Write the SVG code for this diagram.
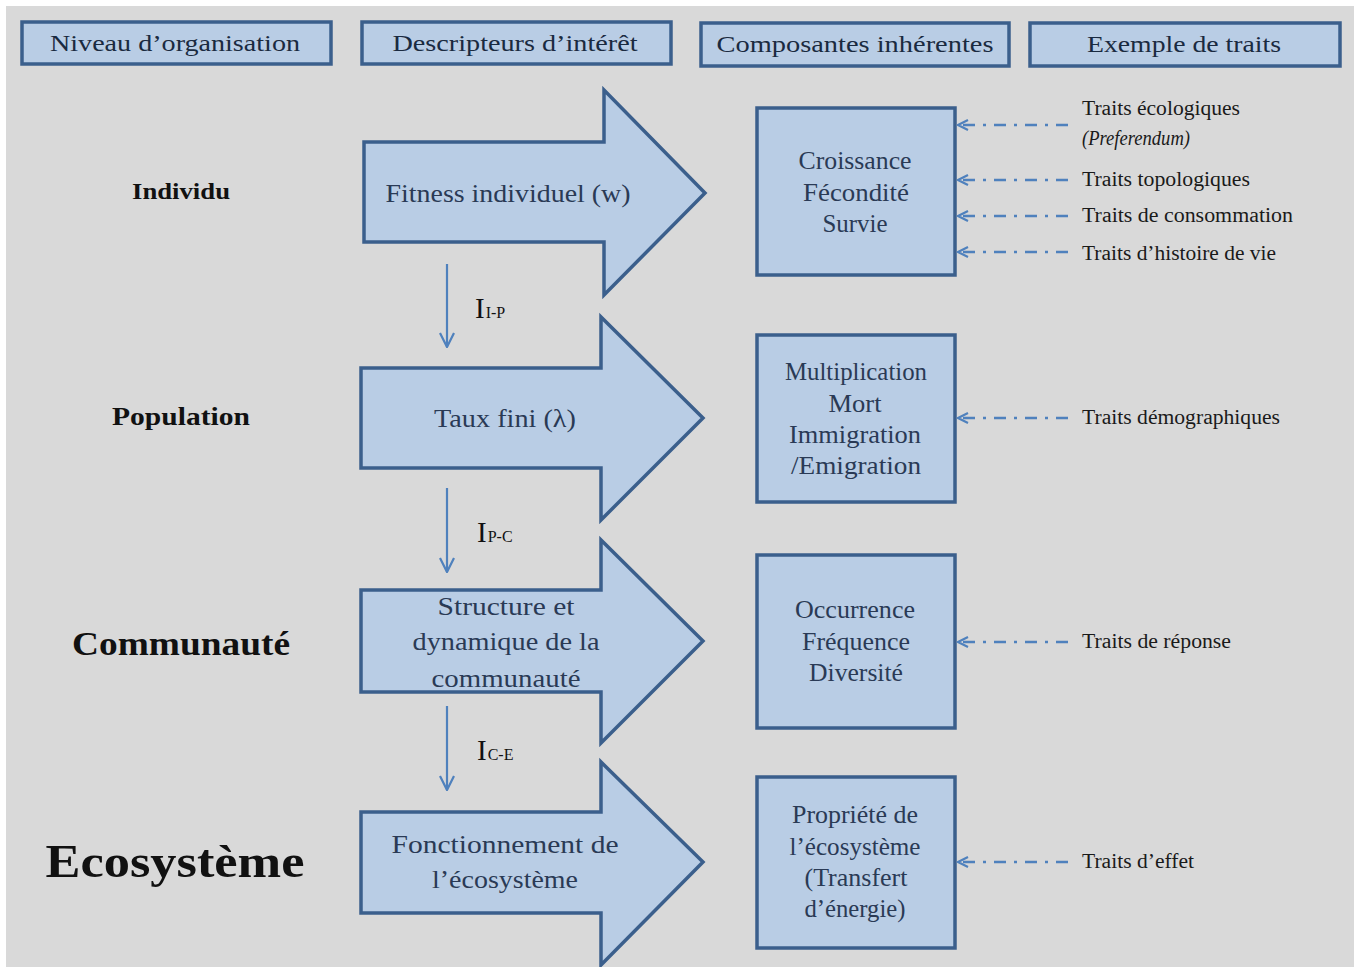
<svg xmlns="http://www.w3.org/2000/svg" width="1360" height="967" viewBox="0 0 1360 967">
<defs>
<style>
.bg{fill:#d9d9d9}
.box{fill:#b9cde5;stroke:#3b5f8c;stroke-width:3.5}
.hdr{font-family:"Liberation Serif",serif;font-size:24px;fill:#1a2a40;text-anchor:middle}
.lvl{font-family:"Liberation Serif",serif;font-weight:bold;fill:#111;text-anchor:middle}
.in{font-family:"Liberation Serif",serif;font-size:25px;fill:#2a3a55;text-anchor:middle}
.tr{font-family:"Liberation Serif",serif;font-size:20px;fill:#1a1a1a}
.sym{font-family:"Liberation Serif",serif;fill:#111}
.dash{stroke:#4f81bd;stroke-width:2.5;fill:none;stroke-dasharray:12 8 3 8}
.vert{stroke:#4f81bd;stroke-width:2.2;fill:none}
</style>
<marker id="open" viewBox="0 0 12 12" refX="11" refY="6" markerWidth="12" markerHeight="12" markerUnits="userSpaceOnUse" orient="auto">
<path d="M1,1 L11,6 L1,11" fill="none" stroke="#4f81bd" stroke-width="2.2"/>
</marker>
<marker id="openv" viewBox="0 0 16 16" refX="15" refY="8" markerWidth="16" markerHeight="16" markerUnits="userSpaceOnUse" orient="auto">
<path d="M1,1 L15,8 L1,15" fill="none" stroke="#4f81bd" stroke-width="2.2"/>
</marker>
</defs>
<rect x="0" y="0" width="1360" height="967" fill="#ffffff"/>
<rect class="bg" x="6" y="6" width="1348" height="961"/>

<g id="header-niveau"><rect class="box" x="22" y="22" width="309" height="42"/><text class="hdr" x="175" y="51" textLength="250" lengthAdjust="spacingAndGlyphs">Niveau d’organisation</text></g>
<g id="header-descripteurs"><rect class="box" x="362" y="22" width="309" height="42"/><text class="hdr" x="515" y="51" textLength="245" lengthAdjust="spacingAndGlyphs">Descripteurs d’intérêt</text></g>
<g id="header-composantes"><rect class="box" x="701" y="23" width="308" height="43"/><text class="hdr" x="855" y="52" textLength="277" lengthAdjust="spacingAndGlyphs">Composantes inhérentes</text></g>
<g id="header-exemple"><rect class="box" x="1030" y="23" width="310" height="43"/><text class="hdr" x="1184" y="52" textLength="194" lengthAdjust="spacingAndGlyphs">Exemple de traits</text></g>

<g id="level-individu"><text class="lvl" x="181" y="199" font-size="24" textLength="98" lengthAdjust="spacingAndGlyphs">Individu</text></g>
<g id="level-population"><text class="lvl" x="181" y="425" font-size="26" textLength="138" lengthAdjust="spacingAndGlyphs">Population</text></g>
<g id="level-communaute"><text class="lvl" x="181" y="655" font-size="34" textLength="218" lengthAdjust="spacingAndGlyphs">Communauté</text></g>
<g id="level-ecosysteme"><text class="lvl" x="175" y="877" font-size="46" textLength="259" lengthAdjust="spacingAndGlyphs">Ecosystème</text></g>

<g id="arrow-fitness"><path class="box" d="M364,142 H604 V90 L705,193 L604,295 V242 H364 Z"/><text class="in" x="508" y="202" textLength="245" lengthAdjust="spacingAndGlyphs">Fitness individuel (w)</text></g>
<g id="arrow-taux"><path class="box" d="M361,368 H601 V317 L703,418 L601,520 V468 H361 Z"/><text class="in" x="505" y="427" textLength="142" lengthAdjust="spacingAndGlyphs">Taux fini (λ)</text></g>
<g id="arrow-structure"><path class="box" d="M361,590 H601 V540 L703,641 L601,743 V692 H361 Z"/><text class="in" x="506" y="615" textLength="137" lengthAdjust="spacingAndGlyphs">Structure  et</text><text class="in" x="506" y="650" textLength="187" lengthAdjust="spacingAndGlyphs">dynamique de la</text><text class="in" x="506" y="687" textLength="149" lengthAdjust="spacingAndGlyphs">communauté</text></g>
<g id="arrow-fonctionnement"><path class="box" d="M361,812 H601 V762 L703,862 L601,965 V913 H361 Z"/><text class="in" x="505" y="853" textLength="227" lengthAdjust="spacingAndGlyphs">Fonctionnement de</text><text class="in" x="505" y="888" textLength="146" lengthAdjust="spacingAndGlyphs">l’écosystème</text></g>

<g id="box-croissance"><rect class="box" x="757" y="108" width="198" height="167"/><text class="in" x="855" y="169" textLength="113" lengthAdjust="spacingAndGlyphs">Croissance</text><text class="in" x="856" y="201" textLength="106" lengthAdjust="spacingAndGlyphs">Fécondité</text><text class="in" x="855" y="232" textLength="65" lengthAdjust="spacingAndGlyphs">Survie</text></g>
<g id="box-multiplication"><rect class="box" x="757" y="335" width="198" height="167"/><text class="in" x="856" y="380" textLength="142" lengthAdjust="spacingAndGlyphs">Multiplication</text><text class="in" x="855" y="412" textLength="53" lengthAdjust="spacingAndGlyphs">Mort</text><text class="in" x="855" y="443" textLength="132" lengthAdjust="spacingAndGlyphs">Immigration</text><text class="in" x="856" y="474" textLength="130" lengthAdjust="spacingAndGlyphs">/Emigration</text></g>
<g id="box-occurrence"><rect class="box" x="757" y="555" width="198" height="173"/><text class="in" x="855" y="618" textLength="120" lengthAdjust="spacingAndGlyphs">Occurrence</text><text class="in" x="856" y="650" textLength="108" lengthAdjust="spacingAndGlyphs">Fréquence</text><text class="in" x="856" y="681" textLength="94" lengthAdjust="spacingAndGlyphs">Diversité</text></g>
<g id="box-propriete"><rect class="box" x="757" y="777" width="198" height="171"/><text class="in" x="855" y="823" textLength="126" lengthAdjust="spacingAndGlyphs">Propriété de</text><text class="in" x="855" y="855" textLength="131" lengthAdjust="spacingAndGlyphs">l’écosystème</text><text class="in" x="856" y="886" textLength="103" lengthAdjust="spacingAndGlyphs">(Transfert</text><text class="in" x="855" y="917" textLength="101" lengthAdjust="spacingAndGlyphs">d’énergie)</text></g>

<g id="traits">
<text class="tr" x="1082" y="115" textLength="158" lengthAdjust="spacingAndGlyphs">Traits écologiques</text>
<text class="tr" x="1082" y="145" font-size="18" font-style="italic" textLength="108" lengthAdjust="spacingAndGlyphs">(Preferendum)</text>
<text class="tr" x="1082" y="186" textLength="168" lengthAdjust="spacingAndGlyphs">Traits topologiques</text>
<text class="tr" x="1082" y="222" textLength="211" lengthAdjust="spacingAndGlyphs">Traits de consommation</text>
<text class="tr" x="1082" y="260" textLength="194" lengthAdjust="spacingAndGlyphs">Traits d’histoire de vie</text>
<text class="tr" x="1082" y="424" textLength="198" lengthAdjust="spacingAndGlyphs">Traits démographiques</text>
<text class="tr" x="1082" y="648" textLength="149" lengthAdjust="spacingAndGlyphs">Traits de réponse</text>
<text class="tr" x="1082" y="868" textLength="112" lengthAdjust="spacingAndGlyphs">Traits d’effet</text>
</g>

<g id="transitions">
<text class="sym" x="475" y="318" font-size="29">I<tspan font-size="16" dx="1">I-P</tspan></text>
<text class="sym" x="477" y="542" font-size="29">I<tspan font-size="16" dx="1">P-C</tspan></text>
<text class="sym" x="477" y="760" font-size="29">I<tspan font-size="16" dx="1">C-E</tspan></text>
</g>

<g id="connectors">
<line class="dash" x1="1068" y1="125" x2="958" y2="125" marker-end="url(#open)"/>
<line class="dash" x1="1068" y1="180" x2="958" y2="180" marker-end="url(#open)"/>
<line class="dash" x1="1068" y1="216" x2="958" y2="216" marker-end="url(#open)"/>
<line class="dash" x1="1068" y1="252" x2="958" y2="252" marker-end="url(#open)"/>
<line class="dash" x1="1068" y1="418" x2="958" y2="418" marker-end="url(#open)"/>
<line class="dash" x1="1068" y1="642" x2="958" y2="642" marker-end="url(#open)"/>
<line class="dash" x1="1068" y1="862" x2="958" y2="862" marker-end="url(#open)"/>
<line class="vert" x1="447" y1="264" x2="447" y2="347" marker-end="url(#openv)"/>
<line class="vert" x1="447" y1="488" x2="447" y2="572" marker-end="url(#openv)"/>
<line class="vert" x1="447" y1="706" x2="447" y2="790" marker-end="url(#openv)"/>
</g>
</svg>
